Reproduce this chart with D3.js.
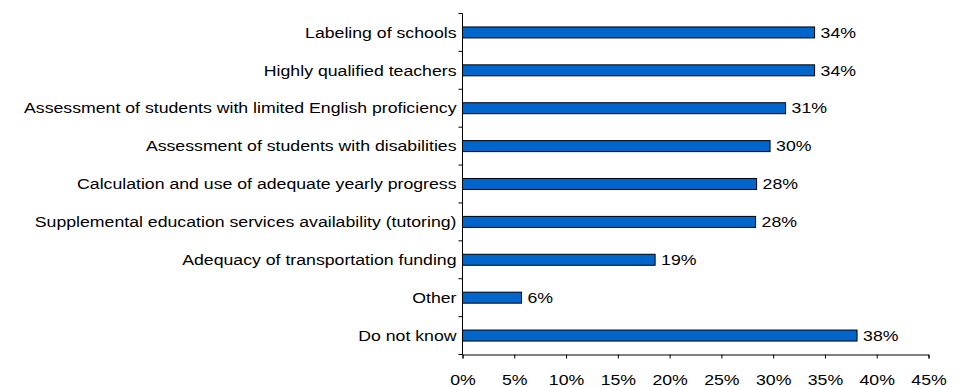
<!DOCTYPE html>
<html><head><meta charset="utf-8">
<script src="https://cdn.jsdelivr.net/npm/d3@7"></script>
<style>body{margin:0;background:#fff}svg{display:block}text{font-family:Arial,"Liberation Sans",sans-serif}</style>
</head><body><svg id="c" width="961" height="387"></svg>
<script>
const categories = ["Labeling of schools","Highly qualified teachers","Assessment of students with limited English proficiency","Assessment of students with disabilities","Calculation and use of adequate yearly progress","Supplemental education services availability (tutoring)","Adequacy of transportation funding","Other","Do not know"];
const values = [34.0, 34.0, 31.2, 29.7, 28.4, 28.3, 18.6, 5.7, 38.1];
const valueLabels = ["34%","34%","31%","30%","28%","28%","19%","6%","38%"];
const xTicks = [0,5,10,15,20,25,30,35,40,45];

const svg = d3.select("#c");
const pLeft = 462.5, pRight = 928.5, pTop = 13.5, pBottom = 354.5;
const FS = 15, SX = 1.18;
const x = d3.scaleLinear().domain([0,45]).range([pLeft,pRight]);
const y = d3.scaleBand().domain(categories).range([pTop,pBottom]).paddingInner(0.71).paddingOuter(0.355);

// bars
svg.append("g").selectAll("rect").data(categories).join("rect")
  .attr("x", x(0)).attr("y", d => y(d))
  .attr("width", (d,i) => x(values[i]) - x(0))
  .attr("height", y.bandwidth())
  .attr("fill", "#0066CC").attr("stroke", "#000").attr("stroke-width", 1);

// value labels
svg.append("g").selectAll("text").data(categories).join("text")
  .attr("transform", (d,i) => `translate(${x(values[i]) + 6},${y(d) + y.bandwidth()/2}) scale(${SX},1)`)
  .attr("dy", "0.35em").attr("font-size", FS).attr("fill", "#000")
  .text((d,i) => valueLabels[i]);

// x axis
const xAxis = d3.axisBottom(x).tickValues(xTicks).tickFormat(d => d + "%").tickSizeOuter(0).tickSize(4).tickPadding(16);
const gx = svg.append("g").attr("transform", `translate(0,${pBottom})`).call(xAxis);
gx.select(".domain").attr("stroke", "#000");
gx.selectAll(".tick line").attr("stroke", "#000");
gx.selectAll("text").attr("font-size", FS).attr("fill", "#000")
  .attr("transform", `scale(${SX},1)`)
  .style("font-family", "Arial, 'Liberation Sans', sans-serif");

// y axis line and boundary ticks
svg.append("line").attr("x1", pLeft).attr("x2", pLeft).attr("y1", pTop).attr("y2", pBottom).attr("stroke", "#000");
const bounds = d3.range(categories.length + 1).map(i => pTop + i * (pBottom - pTop) / categories.length);
svg.append("g").selectAll("line").data(bounds).join("line")
  .attr("x1", pLeft - 4).attr("x2", pLeft).attr("y1", d => d).attr("y2", d => d).attr("stroke", "#000");

// category labels
svg.append("g").selectAll("text").data(categories).join("text")
  .attr("transform", d => `translate(${pLeft - 6},${y(d) + y.bandwidth()/2}) scale(${SX},1)`)
  .attr("dy", "0.35em").attr("text-anchor", "end").attr("font-size", FS).attr("fill", "#000")
  .text(d => d);
</script></body></html>
